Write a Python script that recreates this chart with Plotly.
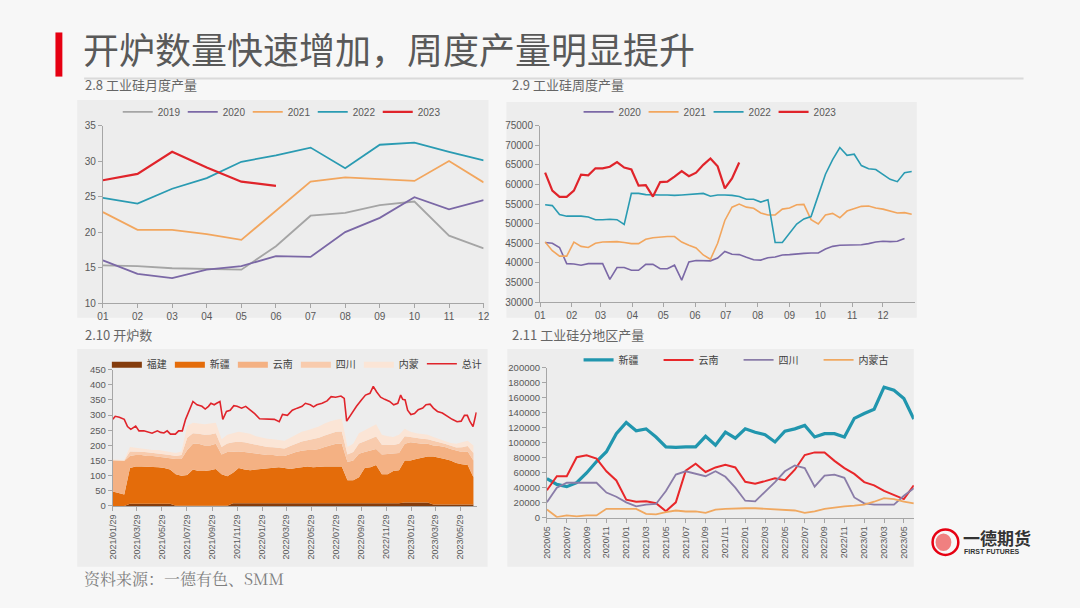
import plotly.graph_objects as go
import pandas as pd

W, H = 1080, 608
def fx(px): return px / W
def fy(py): return 1 - py / H

FONT = "Liberation Sans, Noto Sans CJK SC, sans-serif"
CJK = "Noto Sans CJK SC, sans-serif"
GREY = "#595959"
AX = "#A6A6A6"

# ---------------- 2.8 monthly output (万吨) ----------------
month_idx = list(range(1, 13))
month_lbl = ["01", "02", "03", "04", "05", "06", "07", "08", "09", "10", "11", "12"]
m2019 = [15.3, 15.2, 14.9, 14.8, 14.7, 18.0, 22.3, 22.7, 23.8, 24.3, 19.5, 17.7]
m2020 = [16.0, 14.1, 13.5, 14.7, 15.2, 16.6, 16.5, 20.0, 22.0, 24.9, 23.2, 24.5]
m2021 = [22.8, 20.3, 20.3, 19.7, 18.9, 23.0, 27.1, 27.7, 27.5, 27.2, 30.0, 27.0]
m2022 = [24.8, 24.0, 26.1, 27.6, 29.9, 30.8, 31.9, 29.0, 32.3, 32.6, 31.3, 30.1]
m2023 = [27.3, 28.2, 31.3, 29.1, 27.1, 26.5]

# ---------------- 2.9 weekly output (吨) ----------------
w2020 = [45200, 45000, 43900, 39800, 39700, 39400, 39800, 39800, 39800, 35800,
         38800, 38800, 38100, 38100, 39600, 39600, 38500, 38500, 39400, 35600,
         40200, 40600, 40500, 40500, 41200, 42900, 42200, 42100, 41400, 40800,
         40700, 41300, 41500, 42000, 42100, 42300, 42400, 42500, 42500, 43500,
         44200, 44500, 44500, 44500, 44600, 44900, 45300, 45500, 45400, 45500,
         46200]
w2021 = [45300, 43100, 41700, 41700, 45300, 44200, 43900, 45000, 45300, 45300,
         45400, 45200, 44900, 44900, 46000, 46400, 46600, 46700, 46700, 45300,
         44500, 43800, 42000, 40900, 45000, 50800, 54200, 55000, 54200, 53900,
         52700, 52200, 52200, 53700, 54000, 54800, 54900, 51000, 49900, 52200,
         52600, 51500, 53200, 53900, 54400, 54500, 54000, 53700, 53200, 52700,
         52800, 52400]
w2022 = [54800, 54600, 52300, 51900, 51900, 51900, 51700, 51000, 51000, 51100,
         51000, 49800, 57700, 57700, 57400, 57300, 57300, 57300, 57200, 57300,
         57400, 57500, 57700, 57000, 57300, 57300, 57200, 56900, 56200, 56200,
         55500, 56100, 45200, 45200, 47600, 49900, 51200, 51800, 57200, 62600,
         66300, 69400, 67400, 67700, 64800, 64000, 63800, 62600, 61300, 60700,
         63000, 63300]
w2023 = [63000, 58400, 56800, 56800, 58400, 62500, 62300, 64100, 64100, 64500,
         65700, 64300, 63800, 59700, 59800, 56900, 60600, 60700, 62000, 63400,
         62100, 63000, 65000, 66600, 64600, 59000, 61500, 65600]
week_dates = pd.date_range("2023-01-06", periods=52, freq="7D")
month_starts = pd.date_range("2023-01-01", periods=12, freq="MS")

# ---------------- 2.10 furnaces in operation ----------------
furnace_dates = pd.date_range("2021-01-29", periods=64, freq="14D")
fujian = [0, 0, 0, 7, 7, 7, 7, 7, 7, 7, 7, 1, 1, 1, 1, 1, 1, 1, 1, 1,
          1, 9, 9, 9, 9, 9, 9, 9, 9, 9, 7, 7, 7, 7, 7, 7, 7, 7, 7, 7,
          7, 9, 9, 9, 9, 9, 9, 9, 9, 9, 9, 11, 11, 11, 11, 11, 5, 5, 5, 5,
          5, 5, 5, 5]
xinjiang = [48, 44, 38, 118, 123, 123, 123, 123, 121, 118, 113, 104, 99, 101, 119, 114, 114, 117, 121, 104,
            97, 101, 116, 111, 109, 111, 113, 113, 116, 119, 118, 115, 118, 121, 123, 121, 123, 123, 123, 123,
            123, 76, 76, 86, 116, 119, 126, 96, 96, 106, 109, 139, 139, 144, 149, 152, 158, 155, 150, 145,
            137, 133, 130, 90]
yunnan = [102, 106, 110, 40, 38, 38, 35, 35, 34, 35, 38, 50, 55, 83, 85, 90, 85, 82, 83, 65,
          80, 70, 55, 58, 57, 52, 48, 46, 43, 37, 40, 50, 53, 54, 55, 57, 58, 65, 70, 75,
          75, 60, 65, 77, 53, 54, 53, 65, 67, 60, 57, 55, 60, 53, 45, 42, 37, 38, 40, 38,
          40, 40, 45, 55]
sichuan = [2, 2, 2, 15, 12, 11, 12, 10, 12, 11, 10, 10, 13, 40, 35, 33, 35, 36, 35, 25,
           28, 30, 32, 32, 31, 29, 28, 27, 26, 26, 25, 26, 28, 31, 32, 35, 37, 38, 40, 40,
           41, 25, 28, 34, 36, 40, 41, 32, 29, 26, 30, 25, 18, 16, 17, 15, 14, 12, 10, 10,
           11, 16, 18, 25]
neimeng = [1, 1, 2, 15, 12, 11, 11, 10, 11, 11, 10, 10, 12, 40, 35, 34, 35, 36, 35, 25,
           29, 30, 33, 32, 32, 29, 27, 27, 26, 27, 25, 27, 29, 32, 33, 35, 37, 39, 40, 40,
           42, 25, 27, 34, 36, 40, 41, 33, 29, 27, 30, 25, 17, 16, 16, 15, 14, 12, 10, 10,
           12, 16, 17, 25]
total_dates = ["2021-01-29", "2021-02-04", "2021-02-14", "2021-02-26", "2021-03-06", "2021-03-14",
               "2021-03-26", "2021-04-03", "2021-04-15", "2021-04-27", "2021-05-05", "2021-05-18",
               "2021-05-26", "2021-06-03", "2021-06-11", "2021-06-19", "2021-07-01", "2021-07-09",
               "2021-07-18", "2021-07-26", "2021-08-05", "2021-08-13", "2021-08-23", "2021-09-04",
               "2021-09-12", "2021-09-20", "2021-09-26", "2021-10-04", "2021-10-10", "2021-10-18",
               "2021-10-25", "2021-11-03", "2021-11-12", "2021-11-21", "2021-11-29", "2021-12-10",
               "2021-12-20", "2021-12-30", "2022-01-11", "2022-01-23", "2022-02-04", "2022-02-15",
               "2022-02-28", "2022-03-12", "2022-03-20", "2022-04-01", "2022-04-13", "2022-04-25",
               "2022-05-07", "2022-05-15", "2022-05-27", "2022-06-04", "2022-06-12", "2022-06-25",
               "2022-07-07", "2022-07-17", "2022-07-28", "2022-08-10", "2022-08-18", "2022-08-24",
               "2022-09-05", "2022-09-17", "2022-09-29", "2022-10-09", "2022-10-20", "2022-10-28",
               "2022-11-05", "2022-11-15", "2022-11-25", "2022-12-07", "2022-12-17", "2022-12-27",
               "2023-01-03", "2023-01-08", "2023-01-14", "2023-01-20", "2023-01-28", "2023-02-06",
               "2023-02-15", "2023-02-26", "2023-03-06", "2023-03-16", "2023-03-24", "2023-04-03",
               "2023-04-15", "2023-04-27", "2023-05-09", "2023-05-21", "2023-05-31", "2023-06-08",
               "2023-06-15", "2023-06-21", "2023-06-29", "2023-07-07"]
total = [286, 296, 293, 286, 262, 253, 264, 248, 248, 243, 240, 248, 243, 241, 248, 237, 237, 248,
         248, 286, 318, 345, 334, 329, 320, 329, 339, 334, 339, 345, 286, 312, 316, 331, 329, 323,
         329, 318, 305, 288, 288, 286, 286, 278, 302, 299, 316, 323, 329, 339, 334, 327, 334, 339,
         347, 361, 359, 363, 355, 280, 305, 329, 350, 366, 372, 395, 377, 359, 352, 345, 334, 339,
         366, 352, 350, 316, 302, 305, 318, 323, 334, 336, 323, 312, 307, 296, 286, 278, 280, 299,
         299, 280, 262, 309]
furnace_ticks = ["2021-01-29", "2021-03-29", "2021-05-29", "2021-07-29", "2021-09-29", "2021-11-29",
                 "2022-01-29", "2022-03-29", "2022-05-29", "2022-07-29", "2022-09-29", "2022-11-29",
                 "2023-01-29", "2023-03-29", "2023-05-29"]

# ---------------- 2.11 regional output (吨) ----------------
region_months = [d.strftime("%Y/%m") for d in pd.date_range("2020-05-01", periods=38, freq="MS")]
r_xinjiang = [52000, 44400, 41400, 46600, 59700, 74900, 88000, 112000, 127000, 116000,
              118500, 107600, 94500, 93700, 94500, 94500, 108500, 96700, 114000, 106000,
              118500, 114000, 110700, 101000, 115500, 118500, 123000, 107600, 112000, 112000,
              107600, 132500, 139000, 144600, 174000, 170000, 159000, 131600]
r_yunnan = [36600, 55300, 55300, 80600, 83200, 78900, 61900, 49700, 24000, 21300,
            21800, 19200, 8700, 20500, 62700, 71900, 61000, 67000, 70600, 67000,
            47900, 45300, 48800, 52700, 50100, 64000, 83600, 87100, 87100, 75800,
            66200, 58400, 47500, 43100, 35700, 30000, 24800, 43100]
r_sichuan = [20500, 40000, 46600, 46600, 46600, 46600, 33500, 27900, 20500, 15200,
             17400, 18300, 35700, 57500, 61900, 58800, 55300, 61900, 54500, 40000,
             22700, 21800, 34400, 47500, 61900, 69700, 66200, 41400, 56200, 57500,
             53200, 27000, 19200, 17400, 17400, 17400, 29200, 39200]
r_neimeng = [10900, 900, 3000, 1700, 3000, 3000, 11800, 11800, 11800, 11800,
             5200, 4400, 7400, 9600, 8300, 8300, 6500, 10900, 11800, 12600,
             12600, 12600, 11800, 10500, 10500, 9600, 6500, 8300, 11800, 13900,
             15200, 16100, 17400, 21300, 26100, 24800, 21300, 19200]

fig = go.Figure()

# panel 1
for name, ys, col in [("2019", m2019, "#A5A5A5"), ("2020", m2020, "#7B68A6"),
                      ("2021", m2021, "#F2A65E"), ("2022", m2022, "#2A9BB2"),
                      ("2023", m2023, "#E0242B")]:
    fig.add_trace(go.Scatter(x=month_idx[:len(ys)], y=ys, mode="lines", name=name,
                             line=dict(color=col, width=2.2 if name == "2023" else 1.8),
                             xaxis="x", yaxis="y", legend="legend"))

# panel 2
for name, ys, col in [("2020", w2020, "#7B68A6"), ("2021", w2021, "#F2A65E"),
                      ("2022", w2022, "#2A9BB2"), ("2023", w2023, "#E0242B")]:
    fig.add_trace(go.Scatter(x=week_dates[:len(ys)], y=ys, mode="lines", name=name,
                             line=dict(color=col, width=2.2 if name == "2023" else 1.6),
                             xaxis="x2", yaxis="y2", legend="legend2"))

# panel 3
for name, ys, col in [("福建", fujian, "#843C0C"), ("新疆", xinjiang, "#E46C0A"),
                      ("云南", yunnan, "#F4B183"), ("四川", sichuan, "#F8CBAD"),
                      ("内蒙", neimeng, "#FBE5D6")]:
    fig.add_trace(go.Scatter(x=furnace_dates, y=ys, mode="lines", name=name,
                             stackgroup="furn", line=dict(width=0, color=col),
                             fillcolor=col, xaxis="x3", yaxis="y3", legend="legend3"))
fig.add_trace(go.Scatter(x=total_dates, y=total, mode="lines", name="总计",
                         line=dict(color="#E0242B", width=1.6),
                         xaxis="x3", yaxis="y3", legend="legend3"))

# panel 4
for name, ys, col, w in [("新疆", r_xinjiang, "#2196AE", 3.2), ("云南", r_yunnan, "#E8272A", 2),
                         ("四川", r_sichuan, "#8A7CA8", 1.8), ("内蒙古", r_neimeng, "#F0A860", 1.8)]:
    fig.add_trace(go.Scatter(x=region_months, y=ys, mode="lines", name=name,
                             line=dict(color=col, width=w),
                             xaxis="x4", yaxis="y4", legend="legend4"))

def axis(size=10, **kw):
    d = dict(showline=True, linecolor=AX, linewidth=1, showgrid=False, zeroline=False,
             ticks="outside", tickcolor=AX, ticklen=4,
             tickfont=dict(family=FONT, size=size, color=GREY))
    d.update(kw)
    return d

fig.update_layout(
    width=W, height=H, margin=dict(l=0, r=0, t=0, b=0),
    paper_bgcolor="#F7F7F7", plot_bgcolor="rgba(0,0,0,0)",
    font=dict(family=FONT, color=GREY),
    xaxis=axis(domain=[fx(98), fx(483)], range=[1, 12], tickvals=month_idx, ticktext=month_lbl,
               anchor="y"),
    yaxis=axis(domain=[fy(303), fy(122)], range=[10, 35], dtick=5, anchor="x"),
    xaxis2=axis(domain=[fx(540), fx(919)], range=["2023-01-01", "2024-01-01"], type="date",
                tickvals=month_starts, ticktext=month_lbl, anchor="y2"),
    yaxis2=axis(domain=[fy(302), fy(122)], range=[30000, 75000], dtick=5000, tickformat="d",
                anchor="x2"),
    xaxis3=axis(size=9, domain=[fx(108), fx(476)], range=["2021-01-29", "2023-07-08"], type="date",
                tickvals=furnace_ticks, ticktext=[t.replace("-", "/") for t in furnace_ticks],
                tickangle=-90, anchor="y3"),
    yaxis3=axis(size=9.5, domain=[fy(510), fy(371)], range=[0, 450], dtick=50, anchor="x3"),
    xaxis4=axis(size=9, domain=[fx(547), fx(918)], type="category", range=[0, 37],
                tickvals=region_months[::2], tickangle=-90, anchor="y4"),
    yaxis4=axis(size=9.5, domain=[fy(522), fy(369)], range=[0, 200000], dtick=20000,
                tickformat="d", anchor="x4"),
)

leg = dict(orientation="h", bgcolor="rgba(0,0,0,0)", xanchor="left", yanchor="middle",
           font=dict(family=FONT, size=10, color=GREY), itemwidth=30, tracegroupgap=0,
           traceorder="normal", entrywidthmode="pixels")
cjk_font = dict(family=CJK, size=10, color="#404040")
fig.update_layout(
    legend=dict(x=fx(113), y=fy(108), entrywidth=20, **leg),
    legend2=dict(x=fx(579), y=fy(108), entrywidth=20, **leg),
    legend3=dict(x=fx(102), y=fy(365), entrywidth=18, **{**leg, "font": cjk_font}),
    legend4=dict(x=fx(579), y=fy(361), entrywidth=35, **{**leg, "font": cjk_font}),
)

shapes = [
    dict(type="rect", xref="paper", yref="paper", x0=fx(72), x1=fx(488), y0=fy(318), y1=fy(96),
         fillcolor="#EDEDED", line=dict(width=0), layer="below"),
    dict(type="rect", xref="paper", yref="paper", x0=fx(506), x1=fx(921), y0=fy(318), y1=fy(98),
         fillcolor="#EDEDED", line=dict(width=0), layer="below"),
    dict(type="rect", xref="paper", yref="paper", x0=fx(72), x1=fx(487), y0=fy(572), y1=fy(350),
         fillcolor="#EDEDED", line=dict(width=0), layer="below"),
    dict(type="rect", xref="paper", yref="paper", x0=fx(507), x1=fx(918), y0=fy(572), y1=fy(350),
         fillcolor="#EDEDED", line=dict(width=0), layer="below"),
    dict(type="rect", xref="paper", yref="paper", x0=fx(50), x1=fx(57), y0=fy(72), y1=fy(27),
         fillcolor="#E60012", line=dict(width=0)),
    dict(type="line", xref="paper", yref="paper", x0=fx(79), x1=fx(1029), y0=fy(74), y1=fy(74),
         line=dict(color="#DADADA", width=2)),
    dict(type="circle", xref="paper", yref="paper", x0=fx(937), x1=fx(963), y0=fy(560), y1=fy(534),
         line=dict(color="#E60012", width=2.5), fillcolor="rgba(0,0,0,0)"),
    dict(type="circle", xref="paper", yref="paper", x0=fx(940), x1=fx(956), y0=fy(556), y1=fy(538),
         line=dict(width=0), fillcolor="#F08080"),
]
fig.update_layout(shapes=shapes)

ann = [
    dict(text="开炉数量快速增加，周度产量明显提升", x=fx(76), y=fy(43), xanchor="left", yanchor="middle",
         font=dict(family=CJK, size=36, color="#595959")),
    dict(text="2.8 工业硅月度产量", x=fx(78), y=fy(80), xanchor="left", yanchor="middle",
         font=dict(family=CJK, size=13, color="#666666")),
    dict(text="2.9 工业硅周度产量", x=fx(510), y=fy(80), xanchor="left", yanchor="middle",
         font=dict(family=CJK, size=13, color="#666666")),
    dict(text="2.10 开炉数", x=fx(78), y=fy(335), xanchor="left", yanchor="middle",
         font=dict(family=CJK, size=13, color="#666666")),
    dict(text="2.11 工业硅分地区产量", x=fx(510), y=fy(335), xanchor="left", yanchor="middle",
         font=dict(family=CJK, size=13, color="#666666")),
    dict(text="资料来源：一德有色、SMM", x=fx(77), y=fy(584), xanchor="left", yanchor="middle",
         font=dict(family="Noto Serif CJK SC, Noto Sans CJK SC, serif", size=16, color="#7F7F7F")),
    dict(text="<b>一德期货</b>", x=fx(966), y=fy(542), xanchor="left", yanchor="middle",
         font=dict(family=CJK, size=17, color="#333333")),
    dict(text="<b>FIRST FUTURES</b>", x=fx(967), y=fy(556), xanchor="left", yanchor="middle",
         font=dict(family=FONT, size=7, color="#333333")),
]
for a in ann:
    a.update(xref="paper", yref="paper", showarrow=False)
fig.update_layout(annotations=ann)

fig.write_html("out.html")
